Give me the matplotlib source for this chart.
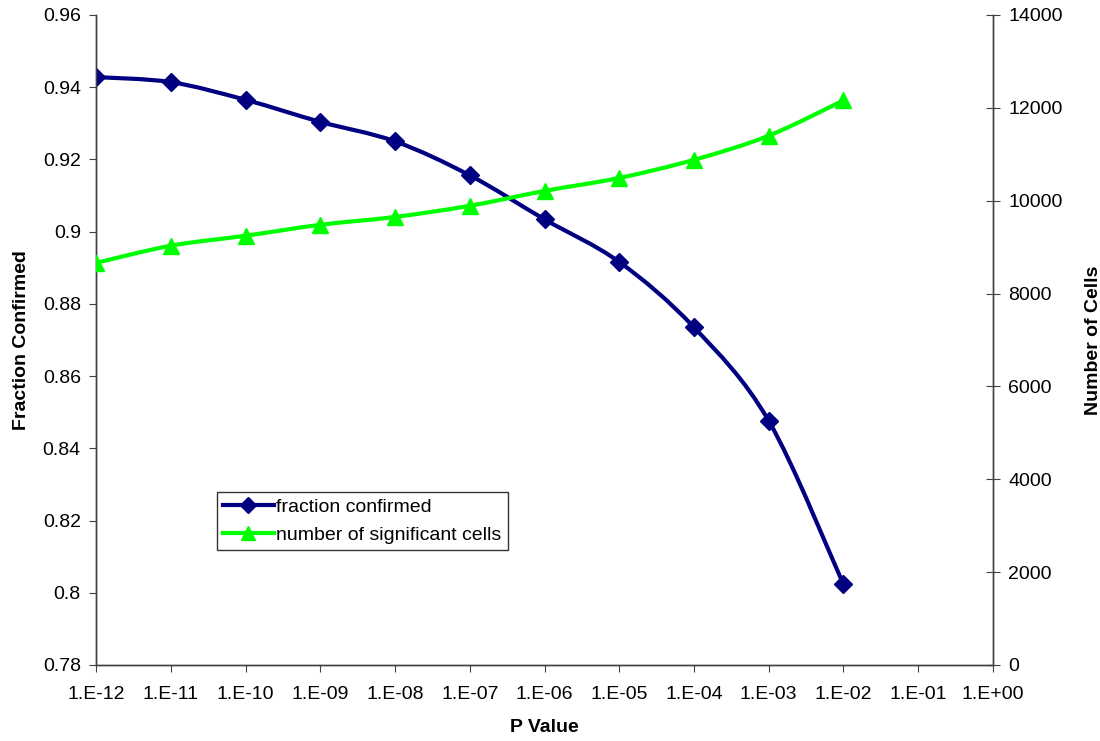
import numpy as np
import matplotlib.pyplot as plt
from matplotlib.path import Path
from matplotlib.patches import PathPatch
from matplotlib.lines import Line2D

plt.rcParams['font.family'] = ['Liberation Sans', 'DejaVu Sans']

p_values = [1e-12, 1e-11, 1e-10, 1e-9, 1e-8, 1e-7, 1e-6, 1e-5, 1e-4, 1e-3, 1e-2]
fraction = [0.9428, 0.9414, 0.9365, 0.9304, 0.9250, 0.9156, 0.9034, 0.8916, 0.8735, 0.8476, 0.8023]
n_cells = [8660, 9030, 9245, 9480, 9650, 9890, 10210, 10490, 10880, 11400, 12160]
xtick_vals = [10.0 ** k for k in range(-12, 1)]
xtick_labels = ['1.E%+03d' % k for k in range(-12, 1)]


def smooth_path(xs, ys):
    # excel-like smoothed line: cubic bezier segments, built in log-x space
    lx = np.log10(xs)
    ys = np.asarray(ys, float)
    n = len(lx)
    verts = [(xs[0], ys[0])]
    codes = [Path.MOVETO]
    for i in range(n - 1):
        a = max(i - 1, 0)
        b = min(i + 2, n - 1)
        c1 = (lx[i] + (lx[i + 1] - lx[a]) / 6, ys[i] + (ys[i + 1] - ys[a]) / 6)
        c2 = (lx[i + 1] - (lx[b] - lx[i]) / 6, ys[i + 1] - (ys[b] - ys[i]) / 6)
        verts += [(10 ** c1[0], c1[1]), (10 ** c2[0], c2[1]), (xs[i + 1], ys[i + 1])]
        codes += [Path.CURVE4] * 3
    return Path(verts, codes)


navy = '#000080'
green = '#00FF00'
fs = 14

fig = plt.figure(figsize=(11, 7.41), dpi=100)
ax = fig.add_axes([0.0873, 0.1026, 0.8154, 0.8772])
ax2 = ax.twinx()

ax.set_xscale('log')
ax.set_xlim(1e-12, 1e0)
ax.set_ylim(0.78, 0.96)
ax2.set_ylim(0, 14000)

ax.add_patch(PathPatch(smooth_path(p_values, fraction), fill=False, edgecolor=navy, lw=3, zorder=3))
ax.plot(p_values, fraction, ls='none', marker='D', ms=9, color=navy, zorder=4)
ax2.add_patch(PathPatch(smooth_path(p_values, n_cells), fill=False, edgecolor=green, lw=3, zorder=3))
ax2.plot(p_values, n_cells, ls='none', marker='^', ms=11, color=green, zorder=4)

ax.set_xticks(xtick_vals)
ax.set_xticklabels(xtick_labels)
ax.xaxis.set_minor_locator(plt.NullLocator())
ax.set_yticks(np.arange(0.78, 0.9601, 0.02))
ax.set_yticklabels(['%g' % v for v in np.round(np.arange(0.78, 0.9601, 0.02), 2)])
ax2.set_yticks(np.arange(0, 14001, 2000))

for a in (ax, ax2):
    a.spines['top'].set_visible(False)
    for s in a.spines.values():
        s.set_color('#404040')
        s.set_linewidth(1)
ax.tick_params(axis='both', labelsize=fs, direction='out', length=5, color='#404040', pad=6)
ax.tick_params(axis='x', pad=10)
ax2.tick_params(axis='y', labelsize=fs, direction='inout', length=10, color='#404040', pad=6)

ax.set_xlabel('P Value', fontsize=fs, fontweight='bold', labelpad=12)
ax.set_ylabel('Fraction Confirmed', fontsize=fs, fontweight='bold', labelpad=9)
ax2.set_ylabel('Number of Cells', fontsize=fs, fontweight='bold', labelpad=16)

handles = [Line2D([], [], color=navy, lw=3, marker='D', ms=8),
           Line2D([], [], color=green, lw=3, marker='^', ms=10)]
leg = ax2.legend(handles, ['fraction confirmed', 'number of significant cells'],
                 loc='upper left', bbox_to_anchor=(0.135, 0.266), fontsize=fs,
                 frameon=True, fancybox=False, borderpad=0.3, handlelength=2.6,
                 handletextpad=0.15, labelspacing=0.55, borderaxespad=0)
leg.get_frame().set_edgecolor('black')
leg.get_frame().set_linewidth(1)

fig.savefig('out.png', dpi=100)
